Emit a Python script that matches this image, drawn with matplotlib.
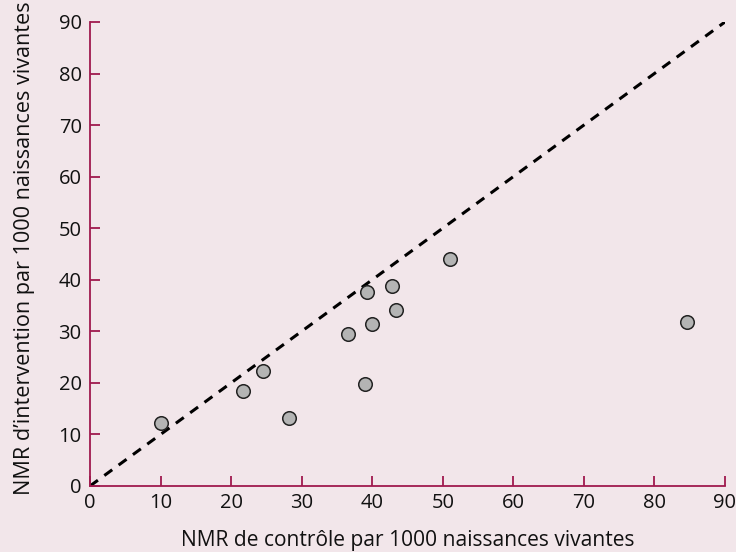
import matplotlib
matplotlib.use("Agg")
import matplotlib.pyplot as plt

x_control = [10.1, 21.7, 24.5, 28.2, 36.6, 39.0, 39.3, 40.0, 42.8, 43.4, 51.0, 84.6]
y_interv = [12.3, 18.4, 22.3, 13.2, 29.5, 19.8, 37.6, 31.4, 38.8, 34.1, 44.0, 31.9]
ticks = [0, 10, 20, 30, 40, 50, 60, 70, 80, 90]
xlabel = "NMR de contrôle par 1000 naissances vivantes"
ylabel = "NMR d\u2019intervention par 1000 naissances vivantes"

bg = "#F2E6EA"
spine_c = "#A01A4E"

plt.rcParams['font.family'] = ['Open Sans', 'DejaVu Sans']

fig = plt.figure(figsize=(7.36, 5.52), dpi=100, facecolor=bg)
ax = fig.add_axes([0.1223, 0.1196, 0.8627, 0.8406])
ax.set_facecolor(bg)

ax.plot([0, 90], [0, 90], linestyle=(0, (3.2, 2.6)), color="black", linewidth=2.2, zorder=2)
ax.scatter(x_control, y_interv, s=95, facecolor="#B4B4B4", edgecolor="#222222",
           linewidth=1.1, zorder=3)

ax.set_xlim(0, 90)
ax.set_ylim(0, 90)
ax.set_xticks(ticks)
ax.set_yticks(ticks)
for s in ["top", "right"]:
    ax.spines[s].set_visible(False)
for s in ["left", "bottom"]:
    ax.spines[s].set_color(spine_c)
    ax.spines[s].set_linewidth(1.3)
ax.tick_params(axis="both", direction="in", length=7, width=1.3, color=spine_c,
               labelsize=14.5, labelcolor="#111111")
ax.tick_params(axis="x", pad=5)
ax.tick_params(axis="y", pad=6)

ax.set_xlabel(xlabel, fontsize=15.1, labelpad=12, color="#111111")
ax.set_ylabel(ylabel, fontsize=15.6, labelpad=12, color="#111111")
ax.yaxis.set_label_coords(-0.087, 0.513)

fig.savefig("out.png", dpi=100, facecolor=bg)
